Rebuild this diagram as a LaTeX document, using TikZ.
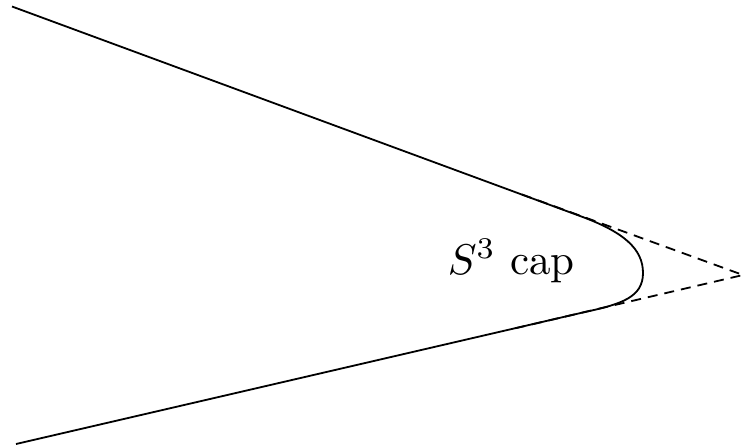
\documentclass[tikz,border=0pt]{standalone}
\begin{document}
\begin{tikzpicture}[x=1pt,y=-1pt,
  edge/.style={line width=1.8pt},
  dashedge/.style={line width=1.8pt,dash pattern=on 10pt off 7pt},
  lbl/.style={scale=4.3,inner sep=0pt}]
\useasboundingbox (0,0) rectangle (743,447);
\coordinate (UA) at (12,6.5);
\coordinate (LA) at (16,444);
\coordinate (P) at (743,275);
\coordinate (UT) at (580,216);
\coordinate (LT) at (585,312);
\coordinate (Tip) at (643,273);
\coordinate (UD) at (522,194.5);
\coordinate (LD) at (510,329.5);
\draw[edge] (UA) -- (UT) .. controls (624,232) and (643,249) .. (Tip)
  .. controls (643,297) and (622,304) .. (LT) -- (LA);
\draw[dashedge] (UD) -- (P) -- (LD);
\node[lbl,anchor=base west] (cap) at (447,274) {$S^3$ cap};
\end{tikzpicture}
\end{document}
